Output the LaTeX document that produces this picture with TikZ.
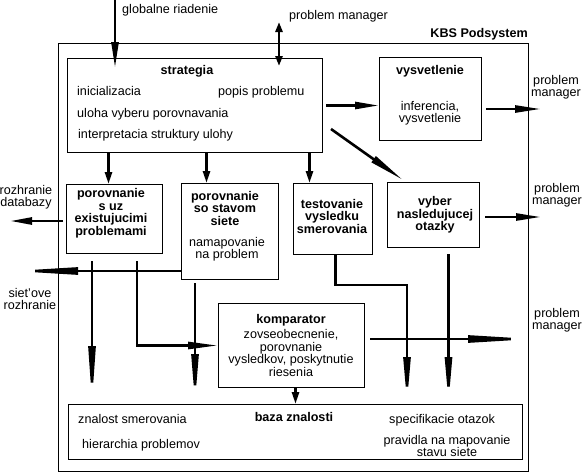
\documentclass[tikz,border=0pt]{standalone}
\usepackage{fontspec}
\setmainfont{Liberation Sans}
\usetikzlibrary{arrows.meta}
\usetikzlibrary{calc}

\tikzset{
  box/.style={draw, line width=1pt, anchor=north west, inner sep=0pt},
  flow/.style={line width=2.6pt, -{Triangle[length=#1, width=7pt]}},
  flow/.default=12pt,
  both/.style={line width=2.6pt, {Triangle[length=10pt, width=7pt]}-{Triangle[length=10pt, width=7pt]}},
  lbl/.style={inner sep=0pt, align=center, font=\fontsize{12.6}{12.5}\selectfont},
  ttl/.style={inner sep=0pt, align=center, font=\fontsize{12.6}{12.5}\selectfont\bfseries},
}

\begin{document}
\begin{tikzpicture}[x=1pt, y=-1pt]
            \useasboundingbox (0,0) rectangle (586,472);

            % boxes
            \node[box, minimum width=470pt, minimum height=428pt] (kbs) at (58,43) {};
            \node[box, minimum width=255pt, minimum height=94pt] (strat) at (67,58) {};
            \node[box, minimum width=102pt, minimum height=83pt] (vysv) at (379,57) {};
            \node[box, minimum width=96pt, minimum height=69pt] (por1) at (66,184) {};
            \node[box, minimum width=97pt, minimum height=96pt] (por2) at (181,183) {};
            \node[box, minimum width=79pt, minimum height=71pt] (test) at (293,183) {};
            \node[box, minimum width=92pt, minimum height=65pt] (vyber) at (387,182) {};
            \node[box, minimum width=146pt, minimum height=84pt] (komp) at (218,303) {};
            \node[box, minimum width=454pt, minimum height=55pt] (baza) at (68,404) {};

            % texts in the boxes
            \node[ttl, anchor=base east] (kbsT) at (528,37) {KBS Podsystem};
            \node[ttl, anchor=base] (stratT) at (187,74) {strategia};
            \node[lbl, anchor=base west] (init) at (77,95) {inicializacia};
            \node[lbl, anchor=base west] (popis) at (218,95) {popis problemu};
            \node[lbl, anchor=base west] (uloha) at (77,117) {uloha vyberu porovnavania};
            \node[lbl, anchor=base west] (interp) at (78,138) {interpretacia struktury ulohy};
            \node[ttl, anchor=base] (vysvT) at (430,74) {vysvetlenie};
            \node[lbl] (infer) at (430,113) {inferencia,\\vysvetlenie};
            \node[ttl] (por1T) at (111,213) {porovnanie\\s uz\\existujucimi\\problemami};
            \node[ttl] (por2T) at (225,208) {porovnanie\\so stavom\\siete};
            \node[lbl] (mapov) at (227,249) {namapovanie\\na problem};
            \node[ttl] (testT) at (332,216) {testovanie\\vysledku\\smerovania};
            \node[ttl] (vyberT) at (435,215) {vyber\\nasledujucej\\otazky};
            \node[ttl, anchor=base] (kompT) at (291,323) {komparator};
            \node[lbl] (zovs) at (291,353) {zovseobecnenie,\\porovnanie\\vysledkov, poskytnutie\\riesenia};
            \node[ttl, anchor=base] (bazaT) at (294,421) {baza znalosti};
            \node[lbl, anchor=base west] (znal) at (78,423) {znalost smerovania};
            \node[lbl, anchor=base west] (hier) at (82,448) {hierarchia problemov};
            \node[lbl, anchor=base west] (spec) at (389,423) {specifikacie otazok};
            \node[lbl] (prav) at (447,446) {pravidla na mapovanie\\stavu siete};

            % outside labels
            \node[lbl, anchor=base west] (glob) at (122,13) {globalne riadenie};
            \node[lbl, anchor=base west] (pmTop) at (289,19) {problem manager};
            \node[lbl] (pm1) at (556,87) {problem\\manager};
            \node[lbl] (pm2) at (557,195) {problem\\manager};
            \node[lbl] (pm3) at (557,320) {problem\\manager};
            \node[lbl] (db) at (26,197) {rozhranie\\databazy};
            \node[lbl] (net) at (30,299) {siet'ove\\rozhranie};

            % free ends
            \coordinate (gr) at (115,0);
            \coordinate (pmT) at (279,22);
            \coordinate (pmA) at (541,109);
            \coordinate (pmB) at (541,217);
            \coordinate (pmC) at (536,339);
            \coordinate (dbA) at (10,221);
            \coordinate (netA) at (10,271);

            % arrows around strategia
            \draw[flow=26pt] (gr) -- ($(strat.north -| gr)+(0,10)$);
            \draw[both] (pmT) -- ($(strat.north -| pmT)+(0,8)$);
            \draw[flow=24pt] ($(strat.east)+(3,0)$) -- (vysv.west |- strat.east);
            \draw[flow=26pt] ($(vysv.east |- pmA)+(4,0)$) -- (pmA);
            \draw[flow=36pt] ($(strat.south east)+(8,-24)$) -- ($(vyber.north west)+(16,-2)$);
            \foreach \b/\dx in {por1/-6,por2/-23.5,test/-23.5}{
                \coordinate (in\b) at ($(\b.north)+(\dx,0)$);
                \draw[flow] (in\b |- strat.south) -- (in\b);
            }

            % interfaces
            \draw[flow=22pt] ($(por1.west |- dbA)+(-3,0)$) -- (dbA);
            \draw[flow=68pt] (por2.west |- netA) -- (netA);
            \draw[flow=25pt] ($(vyber.east |- pmB)+(5,0)$) -- (pmB);

            % down to baza znalosti
            \coordinate (k1) at ($(por1.south west)+(26,7)$);
            \coordinate (k2) at ($(por1.south west)+(71,7)$);
            \coordinate (k3) at ($(por2.south west)+(14,3)$);
            \coordinate (k4) at ($(komp.south)+(4,0)$);
            \coordinate (k5) at ($(test.south)+(2.5,0)$);
            \coordinate (k6) at ($(baza.north west)+(339,0)$);
            \coordinate (k7) at ($(vyber.south)+(15,6)$);
            \draw[flow=58pt] (k1) -- (k1 |- baza.north);
            \draw[flow=30pt] (k2) |- (komp.west);
            \draw[flow=50pt] (k3) -- (k3 |- baza.north);
            \draw[flow] (k4) -- (k4 |- baza.north);
            \draw[flow=47pt] (k5) -- ++(0,30) -| (k6);
            \draw[flow=47pt] (k7) -- (k7 |- baza.north);
            \draw[flow=68pt] ($(komp.east |- pmC)+(5,0)$) -- (pmC);
\end{tikzpicture}
\end{document}
